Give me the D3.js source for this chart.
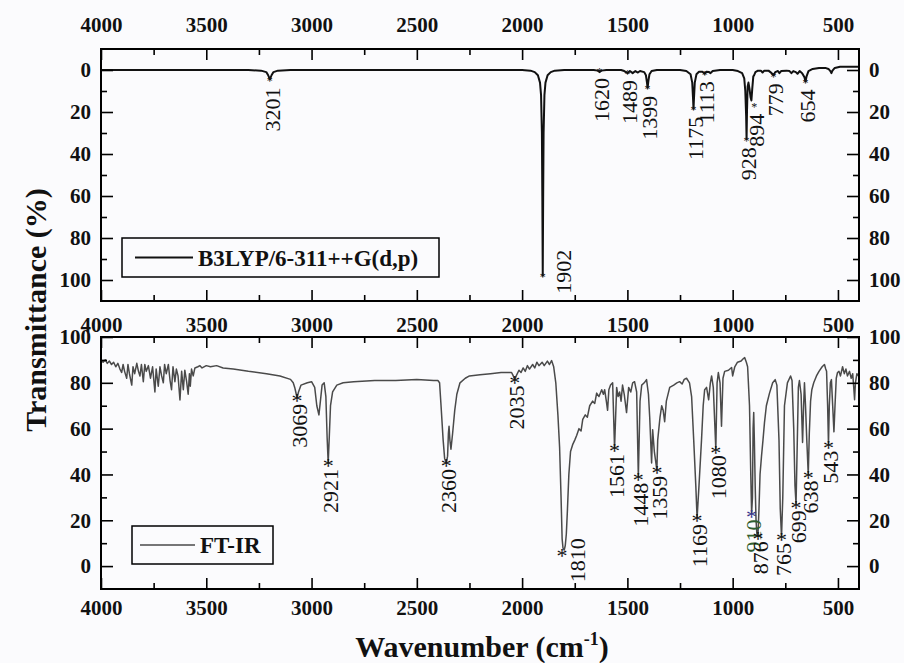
<!DOCTYPE html>
<html><head><meta charset="utf-8">
<script src="https://cdn.jsdelivr.net/npm/d3@7"></script>
<style>body{margin:0;background:#fff}</style>
</head><body><svg id="c" width="904" height="663"></svg>
<script>
// ---------- data ----------
const xMajorTicks = [4000,3500,3000,2500,2000,1500,1000,500];
const xMinorTicks = [3750,3250,2750,2250,1750,1250,750];
const yMajorTicks = [0,20,40,60,80,100];
const yMinorTicks = [10,30,50,70,90];

const calcSpectrum = [
[4000,0],[3300,0],[3240,0.3],[3215,1],[3206,2.5],[3198,4.5],[3190,2.5],[3181,1],[3160,0.3],[3100,0],
[2000,0],[1960,0.3],[1940,1],[1925,2.5],[1915,6],[1910,12],[1906,30],[1904,60],[1902,98],[1900,60],[1898,30],[1894,12],[1889,6],[1879,2.5],[1864,1],[1845,0.3],[1800,0],
[1660,0],[1640,0.3],[1632,1],[1624,0.3],[1600,0],[1530,0],[1515,0.5],[1499,1.5],[1488,0.5],[1475,1.5],[1462,0.5],[1450,1.2],[1440,0.5],[1420,1],[1412,2.5],[1407,6],[1404,8.5],[1400,5],[1395,2],[1385,0.5],[1360,0],
[1250,0],[1220,0.5],[1200,2],[1192,6],[1188,14],[1186,18.5],[1184,14],[1180,6],[1172,2],[1160,0.8],[1145,0.8],[1138,1.2],[1133,1.8],[1125,0.8],[1112,1],[1105,1.5],[1095,0.5],[1060,0],
[1000,0],[975,0.5],[955,1.5],[945,4],[940,10],[936,22],[934,33],[932,20],[929,8],[925,6],[920,9],[915,13],[911,14.5],[907,9],[902,3],[898,2.5],[892,1],[880,0.3],[866,0.3],[858,1.2],[850,0.3],[830,0.3],[815,1.5],[806,2.5],[798,1],[785,0.5],[778,1.5],[770,0.5],[745,0.3],[730,0.5],[721,1.5],[712,0.5],[700,1],[692,1.8],[682,0.5],[670,1.5],[659,3.5],[654,5.5],[649,3],[640,0.5],[620,-0.5],[590,-1],[560,-1],[545,-0.5],[536,0.5],[531,1.5],[526,0.3],[515,-1],[490,-1.5],[400,-1.5]
];

const expSpectrum = [
[4000,90],[3990,89],[3980,90],[3970,88.5],[3960,89.5],[3950,88],[3940,89],[3930,87],[3920,88.5],[3910,86],[3902,84.5],[3895,88],[3888,85],[3878,82],[3872,88],[3865,84],[3854,79],[3848,87],[3840,84],[3830,88.5],[3822,85],[3815,83],[3808,88],[3799,80.5],[3792,88],[3785,85],[3775,87.5],[3765,82],[3755,87],[3744,76],[3738,86],[3728,78.5],[3720,87],[3712,83],[3704,80],[3698,88],[3690,84],[3680,88],[3672,81],[3665,77],[3658,87],[3649,80.5],[3642,86],[3634,83],[3625,72.5],[3617,85],[3609,77],[3602,85.5],[3594,81],[3586,75],[3580,84],[3576,78.5],[3570,86],[3562,83],[3554,86.5],[3540,87],[3530,87.5],[3520,86.5],[3500,87.5],[3480,87],[3451,87.5],[3420,86.5],[3372,86],[3300,85],[3214,84],[3150,83],[3100,81.5],[3087,80],[3080,78],[3075,76],[3069,73.5],[3062,76],[3050,79],[3020,80],[3000,80.5],[2985,78],[2975,70],[2965,66],[2958,72],[2950,79],[2940,80],[2932,74],[2926,56],[2921,45],[2916,56],[2910,70],[2900,76],[2880,79],[2850,80],[2800,80.5],[2700,81],[2600,81],[2500,81.5],[2420,81],[2400,81],[2392,80],[2385,70],[2375,55],[2368,47],[2360,45],[2354,48],[2350,58],[2347,61],[2343,55],[2338,51],[2330,58],[2320,68],[2310,75],[2295,80],[2270,82],[2250,83],[2200,83.5],[2150,84],[2100,84.5],[2050,84.5],[2042,83],[2035,81.4],[2028,83],[2015,85.5],[2005,84.5],[1995,86.5],[1985,85],[1975,87.5],[1965,86],[1950,88],[1940,86.5],[1930,89],[1920,87.5],[1905,89],[1895,87.5],[1880,89.5],[1870,88],[1860,89.7],[1850,87],[1840,80],[1830,66],[1822,52],[1815,30],[1810,12],[1806,8],[1800,7],[1795,9],[1790,14],[1785,24],[1778,40],[1770,50],[1760,53],[1750,55],[1741,57],[1730,60],[1720,59],[1712,64],[1700,66],[1690,65],[1679,70],[1665,72],[1655,71],[1646,75.5],[1635,74],[1622,77],[1614,75],[1608,77],[1600,72],[1594,68],[1588,77],[1580,79],[1570,80],[1561,51.5],[1551,78],[1544,74],[1537,76],[1530,72],[1523,79],[1515,75],[1504,67],[1494,78],[1484,76],[1475,80],[1466,80.5],[1456,76],[1448,39],[1440,72],[1432,79],[1420,80],[1409,81.4],[1400,75],[1394,65],[1385,45],[1380,59.5],[1372,50],[1360,42],[1356,55],[1345,65],[1337,70],[1330,68],[1323,63],[1315,72],[1299,78],[1280,79],[1265,80],[1252,80.5],[1240,79.5],[1230,81.5],[1219,82],[1205,80],[1195,74],[1185,55],[1175,35],[1169,21],[1160,35],[1148,55],[1140,70],[1133,77],[1124,78],[1114,72.6],[1106,80],[1100,83],[1092,78],[1080,51],[1074,80],[1068,84.5],[1060,80],[1053,61],[1046,82],[1038,85],[1020,85.5],[1005,86.7],[1000,83],[990,87],[977,89],[960,89.5],[950,90.5],[943,91],[935,89],[929,87],[920,70],[914,40],[910,23],[906,30],[903,60],[900,67],[897,55],[893,35],[889,20],[885,14],[880,13],[875,25],[870,40],[863,48],[856,55],[849,62.5],[840,70],[825,75.5],[810,80],[798,81.4],[790,79],[780,55],[774,25],[768,12.7],[762,30],[754,70],[740,80],[725,83],[718,81],[710,60],[704,35],[699,27],[694,50],[688,78],[683,81],[675,75],[668,54],[663,70],[659,80],[654,70],[648,55],[641,40],[636,58],[630,72],[624,77],[615,80],[602,83],[590,85],[575,87],[564,88],[558,86],[554,85],[549,70],[545,53],[541,70],[536,80],[531,81.4],[525,70],[519,58.6],[514,70],[508,82],[502,84.5],[495,85],[488,83],[478,87],[470,84],[462,86],[455,83],[445,85],[437,82],[430,84],[425,78],[421,72.6],[417,80],[410,84],[402,83],[400,83]
];

const calcLabels  = ["3201","1902","1620","1489","1399","1175","1113","928","894","779","654"];
const calcPeakPos = [3198,1902,1632,1499,1404,1186,1133,934,898,806,654];
const calcPeakT   = [4.5,98,0,1,8.5,18.5,1.5,33,17,2.5,5.5];

const expLabels  = ["3069","2921","2360","2035","1810","1561","1448","1359","1169","1080","910","876","765","699","638","543"];
const expPeakPos = [3069,2921,2360,2035,1810,1561,1448,1359,1169,1080,910,880,768,699,641,545];
const expPeakT   = [73.5,45,45,81.4,6,51.5,39,42,21,51,23,13.5,12.7,27,40,53];

const legendCalc = "B3LYP/6-311++G(d,p)";
const legendExp = "FT-IR";
const yTitle = "Transmittance (%)";
const xTitle = "Wavenumber (cm";

// ---------- drawing ----------
const FONT = "'Liberation Serif','Times New Roman',serif";
const svg = d3.select("#c").style("font-family", FONT);
svg.append("rect").attr("width",904).attr("height",663).attr("fill","#fbfbfd");

const L = 101, R = 859;
const x = d3.scaleLinear().domain([4000,400]).range([L,R]);
const yTop = d3.scaleLinear().domain([-10,110]).range([49,301]);
const yBot = d3.scaleLinear().domain([-10,100]).range([589,337]);

function drawAxes(ys, o) {
  const [t, b] = [ys.range()[0], ys.range()[1]].sort((a,c)=>a-c);
  const g = svg.append("g");
  const style = sel => {
    sel.select(".domain").remove();
    sel.selectAll("line").attr("stroke","#000").attr("stroke-width",1.6);
    sel.selectAll("text").attr("font-family",FONT).attr("font-size",21).attr("font-weight","bold").attr("fill","#111");
  };
  // top
  g.append("g").attr("transform",`translate(0,${t})`)
    .call(d3.axisTop(x).tickValues(xMajorTicks).tickSize(-11).tickPadding(o.topPad).tickFormat(o.topLabels ? d3.format("d") : ""))
    .call(style);
  g.append("g").attr("transform",`translate(0,${t})`)
    .call(d3.axisTop(x).tickValues(xMinorTicks).tickSize(-6).tickFormat("")).call(style);
  // bottom
  g.append("g").attr("transform",`translate(0,${b})`)
    .call(d3.axisBottom(x).tickValues(xMajorTicks).tickSize(-11).tickPadding(o.botPad).tickFormat(o.botLabels ? d3.format("d") : ""))
    .call(style);
  g.append("g").attr("transform",`translate(0,${b})`)
    .call(d3.axisBottom(x).tickValues(xMinorTicks).tickSize(-6).tickFormat("")).call(style);
  // left / right
  g.append("g").attr("transform",`translate(${L},0)`)
    .call(d3.axisLeft(ys).tickValues(yMajorTicks).tickSize(-12).tickPadding(10).tickFormat(d3.format("d"))).call(style);
  g.append("g").attr("transform",`translate(${L},0)`)
    .call(d3.axisLeft(ys).tickValues(yMinorTicks).tickSize(-6).tickFormat("")).call(style);
  g.append("g").attr("transform",`translate(${R},0)`)
    .call(d3.axisRight(ys).tickValues(yMajorTicks).tickSize(-12).tickPadding(10).tickFormat(d3.format("d"))).call(style);
  g.append("g").attr("transform",`translate(${R},0)`)
    .call(d3.axisRight(ys).tickValues(yMinorTicks).tickSize(-6).tickFormat("")).call(style);
  // frame
  g.append("rect").attr("x",L).attr("y",t).attr("width",R-L).attr("height",b-t)
    .attr("fill","none").attr("stroke","#000").attr("stroke-width",2);
  return [t,b];
}

function drawSpectrum(data, ys, id, color, width) {
  const [t,b] = [ys.range()[0], ys.range()[1]].sort((a,c)=>a-c);
  svg.append("clipPath").attr("id",id).append("rect").attr("x",L).attr("y",t).attr("width",R-L).attr("height",b-t);
  const line = d3.line().x(d=>x(d[0])).y(d=>ys(d[1]));
  svg.append("path").datum(data).attr("d",line).attr("fill","none")
    .attr("stroke",color).attr("stroke-width",width).attr("stroke-linejoin","round")
    .attr("clip-path",`url(#${id})`);
}

drawSpectrum(calcSpectrum, yTop, "clipTop", "#111", 2);
drawSpectrum(expSpectrum, yBot, "clipBot", "#4a4a4a", 1.5);
drawAxes(yTop, {topLabels:true, botLabels:false, topPad:17, botPad:8});
drawAxes(yBot, {topLabels:true, botLabels:true, topPad:5, botPad:11});

// peak annotations
const sideLabels = { "1902": [21,-4], "1810": [15,8] };
function annotate(labels, pos, vals, ys, starSize, gap, colorFn) {
  labels.forEach((lab,i) => {
    const sx = x(pos[i]), sy = ys(vals[i]);
    const c = colorFn ? colorFn(lab) : ["#111","#111"];
    svg.append("text").attr("x",sx).attr("y",sy).attr("dy","0.47em")
      .attr("text-anchor","middle").attr("font-size",starSize).attr("fill",c[1]).text("*");
    const side = sideLabels[lab];
    let tx, ty, anchor;
    if (side) { tx = sx + side[0]; ty = sy + side[1]; anchor = "middle"; }
    else { tx = sx + 2; ty = sy + gap; anchor = "end"; }
    svg.append("text").attr("transform",`translate(${tx},${ty}) rotate(-90)`)
      .attr("dy","0.35em").attr("text-anchor",anchor).attr("font-size",22).attr("fill",c[0]).text(lab);
  });
}
annotate(calcLabels, calcPeakPos, calcPeakT, yTop, 12, 8);
annotate(expLabels, expPeakPos, expPeakT, yBot, 22, 6, lab => lab==="910" ? ["#2f5e2f","#33338a"] : ["#111","#111"]);

// legends
function legend(x0,y0,w,h,lx0,lx1,color,lw,label) {
  svg.append("rect").attr("x",x0).attr("y",y0).attr("width",w).attr("height",h)
    .attr("fill","none").attr("stroke","#000").attr("stroke-width",1.5);
  const cy = y0 + h/2;
  svg.append("line").attr("x1",lx0).attr("x2",lx1).attr("y1",cy).attr("y2",cy)
    .attr("stroke",color).attr("stroke-width",lw);
  svg.append("text").attr("x",lx1+5).attr("y",cy).attr("dy","0.35em")
    .attr("font-size",23).attr("font-weight","bold").attr("fill","#111").text(label);
}
legend(122,238,317,39,135,193,"#111",2,legendCalc);
legend(132,526,141,38,140,195,"#4a4a4a",1.5,legendExp);

// titles
svg.append("text").attr("transform","translate(35,310) rotate(-90)").attr("dy","0.35em")
  .attr("text-anchor","middle").attr("font-size",30).attr("font-weight","bold").attr("fill","#111").text(yTitle);
const xt = svg.append("text").attr("x",482).attr("y",657).attr("text-anchor","middle")
  .attr("font-size",30).attr("font-weight","bold").attr("fill","#111");
xt.append("tspan").text(xTitle);
xt.append("tspan").attr("font-size",18).attr("dy",-12).text("-1");
xt.append("tspan").attr("dy",12).text(")");
</script></body></html>
